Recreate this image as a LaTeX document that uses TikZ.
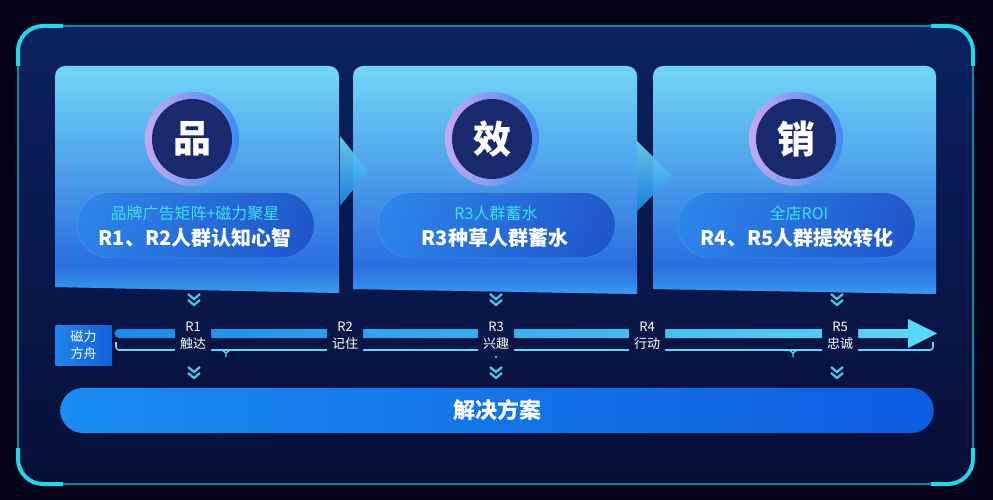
\documentclass[tikz,border=0pt]{standalone}
\usepackage{fontspec}
\setmainfont{Noto Sans CJK SC}
\usetikzlibrary{positioning,shapes.misc,fadings}

\definecolor{bgdark}{HTML}{06051C}
\definecolor{frametop}{HTML}{0C2160}
\definecolor{framebot}{HTML}{070F38}
\definecolor{frameline}{HTML}{1C7FA0}
\definecolor{accent}{HTML}{22D8E8}
\definecolor{cardtop}{HTML}{72D6F7}
\definecolor{cardmid}{HTML}{3A8EEA}
\definecolor{cardbot}{HTML}{2160DC}
\definecolor{cardglow}{HTML}{3A9CF0}
\definecolor{ringa}{HTML}{C6A8F2}
\definecolor{ringb}{HTML}{A26CE6}
\definecolor{ringc}{HTML}{3A8CF2}
\definecolor{core}{HTML}{18296E}
\definecolor{pilll}{HTML}{2C86EA}
\definecolor{pillr}{HTML}{1B4FC6}
\definecolor{subcyan}{HTML}{3FE0F2}
\definecolor{chevc}{HTML}{4DC8EC}
\definecolor{barl}{HTML}{1A8AE8}
\definecolor{barr}{HTML}{5BD9F6}
\definecolor{lblbg}{HTML}{091746}
\definecolor{boxl}{HTML}{2084EC}
\definecolor{boxr}{HTML}{1460D8}
\definecolor{soll}{HTML}{1A8CF2}
\definecolor{solr}{HTML}{0E5DE0}

\begin{document}
\begin{tikzpicture}[x=1pt,y=-1pt]

\tikzstyle{card} = [top color=cardtop, middle color=cardmid, bottom color=cardbot]%
\tikzstyle{ring} = [circle, minimum size=94pt, inner sep=0, left color=ringa, middle color=ringb, right color=ringc]%
\tikzstyle{coredisc} = [circle, minimum size=80pt, inner sep=0, fill=core, text=white, font=\fontsize{38}{40}\selectfont\bfseries]%
\tikzstyle{pill} = [rounded rectangle, minimum width=244pt, minimum height=65pt, left color=pilll, right color=pillr, fill opacity=0.85, draw=cardtop, draw opacity=0.35]%
\tikzstyle{subtxt} = [inner sep=0, text=subcyan, font=\fontsize{16}{18}\selectfont]%
\tikzstyle{maintxt} = [inner sep=0, text=white, font=\fontsize{20}{22}\selectfont\bfseries]%
\tikzstyle{tri} = [top color=cardtop, bottom color=barl, fill opacity=0.9]%
\tikzstyle{chevline} = [chevc, line width=2.2pt]%
\tikzstyle{tl} = [fill=lblbg, rounded corners=3pt, inner sep=1pt, minimum width=36pt, minimum height=38pt, align=center, text=white, font=\fontsize{13}{17}\selectfont]%
\tikzstyle{bracket} = [barr, line width=1.6pt, rounded corners=3pt]%
\tikzstyle{solution} = [rounded rectangle, minimum width=880pt, minimum height=45pt, left color=soll, right color=solr, text=white, font=\fontsize{22}{24}\selectfont\bfseries]%

\tikzset{chevdown/.pic={
  \draw[chevline] (-6,0) -- (0,5) -- (6,0);
  \draw[chevline] (-6,6) -- (0,11) -- (6,6);
}}

% background and frame
\fill[bgdark] (0,0) rectangle (993,500);
\shade[top color=frametop, bottom color=framebot, rounded corners=25pt] (18,26) rectangle (973,484);
\draw[frameline, line width=2pt, rounded corners=25pt] (18,26) rectangle (973,484);
\draw[accent, line width=4pt, rounded corners=25pt] (18,66) -- (18,26) -- (63,26);
\draw[accent, line width=4pt, rounded corners=25pt] (931,26) -- (973,26) -- (973,66);
\draw[accent, line width=4pt, rounded corners=25pt] (18,448) -- (18,484) -- (63,484);
\draw[accent, line width=4pt, rounded corners=25pt] (931,484) -- (973,484) -- (973,448);

% cards
\shade[card] (55,287) -- (55,76) arc[start angle=180, end angle=270, radius=10] -- (329,66)
  arc[start angle=270, end angle=360, radius=10] -- (339,293) -- cycle;
\shade[card] (353,289) -- (353,76) arc[start angle=180, end angle=270, radius=10] -- (627,66)
  arc[start angle=270, end angle=360, radius=10] -- (637,294) -- cycle;
\shade[card] (653,289) -- (653,76) arc[start angle=180, end angle=270, radius=10] -- (926,66)
  arc[start angle=270, end angle=360, radius=10] -- (936,294) -- cycle;
\fill[cardglow, path fading=north] (55,262) rectangle (339,287) (55,287) -- (339,287) -- (339,293) -- cycle;
\fill[cardglow, path fading=north] (353,264) rectangle (637,289) (353,289) -- (637,289) -- (637,294) -- cycle;
\fill[cardglow, path fading=north] (653,264) rectangle (936,289) (653,289) -- (936,289) -- (936,294) -- cycle;

% arrows between cards
\shade[tri] (340,136) -- (368,171) -- (340,206) -- cycle;
\shade[tri] (637,141) -- (672,176) -- (637,211) -- cycle;

% icons
\node[ring] (pin) at (192,139) {};
\node[coredisc] at (pin) {品};
\node[ring] (xiao) at (492,139) {};
\node[coredisc] at (xiao) {效};
\node[ring] (xiaoshou) at (796,139) {};
\node[coredisc] at (xiaoshou) {销};

% pills
\node[pill] (pill1) at (195.5,225) {};
\node[subtxt] (sub1) at (195,213) {品牌广告矩阵+磁力聚星};
\node[maintxt] (main1) at (195,238) {R1、R2人群认知心智};

\node[pill] (pill2) at (496.5,225) {};
\node[subtxt] (sub2) at (496,213) {R3人群蓄水};
\node[maintxt] (main2) at (495,238) {R3种草人群蓄水};

\node[pill] (pill3) at (796.5,225) {};
\node[subtxt] (sub3) at (799,213) {全店ROI};
\node[maintxt] (main3) at (797,238) {R4、R5人群提效转化};

% timeline
\node[left color=boxl, right color=boxr, minimum width=56pt, minimum height=40pt, inner sep=0,
  align=center, text=white, font=\fontsize{13}{17}\selectfont] (fangzhou) at (83.5,345) {磁力\\方舟};
\coordinate (tip) at (937,333.5);
\shade[left color=barl, right color=barr] (119,329) -- (908,329) -- (908,319) -- (tip)
  -- (908,348) -- (908,338) -- (119,338) arc[start angle=90, end angle=270, radius=4.5] -- cycle;
\draw[bracket] (116,342) -- (116,350) -- (933,350) -- (933,342);
\draw[barr, line width=1.4pt] (222,350) -- (226,353) -- (230,350) (226,353) -- (226,357);
\draw[barr, line width=1.4pt] (789,350) -- (793,353) -- (797,350) (793,353) -- (793,357);
\fill[chevc] (496,357) circle (1.3);

\node[tl] (r1) at (193,336) {R1\\触达};
\node[tl] (r2) at (345,336) {R2\\记住};
\node[tl] (r3) at (496,336) {R3\\兴趣};
\node[tl] (r4) at (647,336) {R4\\行动};
\node[tl] (r5) at (840,336) {R5\\忠诚};

\pic at (194,294) {chevdown};
\pic at (496,294) {chevdown};
\pic at (837,294) {chevdown};
\pic at (194,367) {chevdown};
\pic at (496,367) {chevdown};
\pic at (837,367) {chevdown};

% solution bar
\node[solution] (plan) at (497,410.5) {解决方案};

\end{tikzpicture}
\end{document}
